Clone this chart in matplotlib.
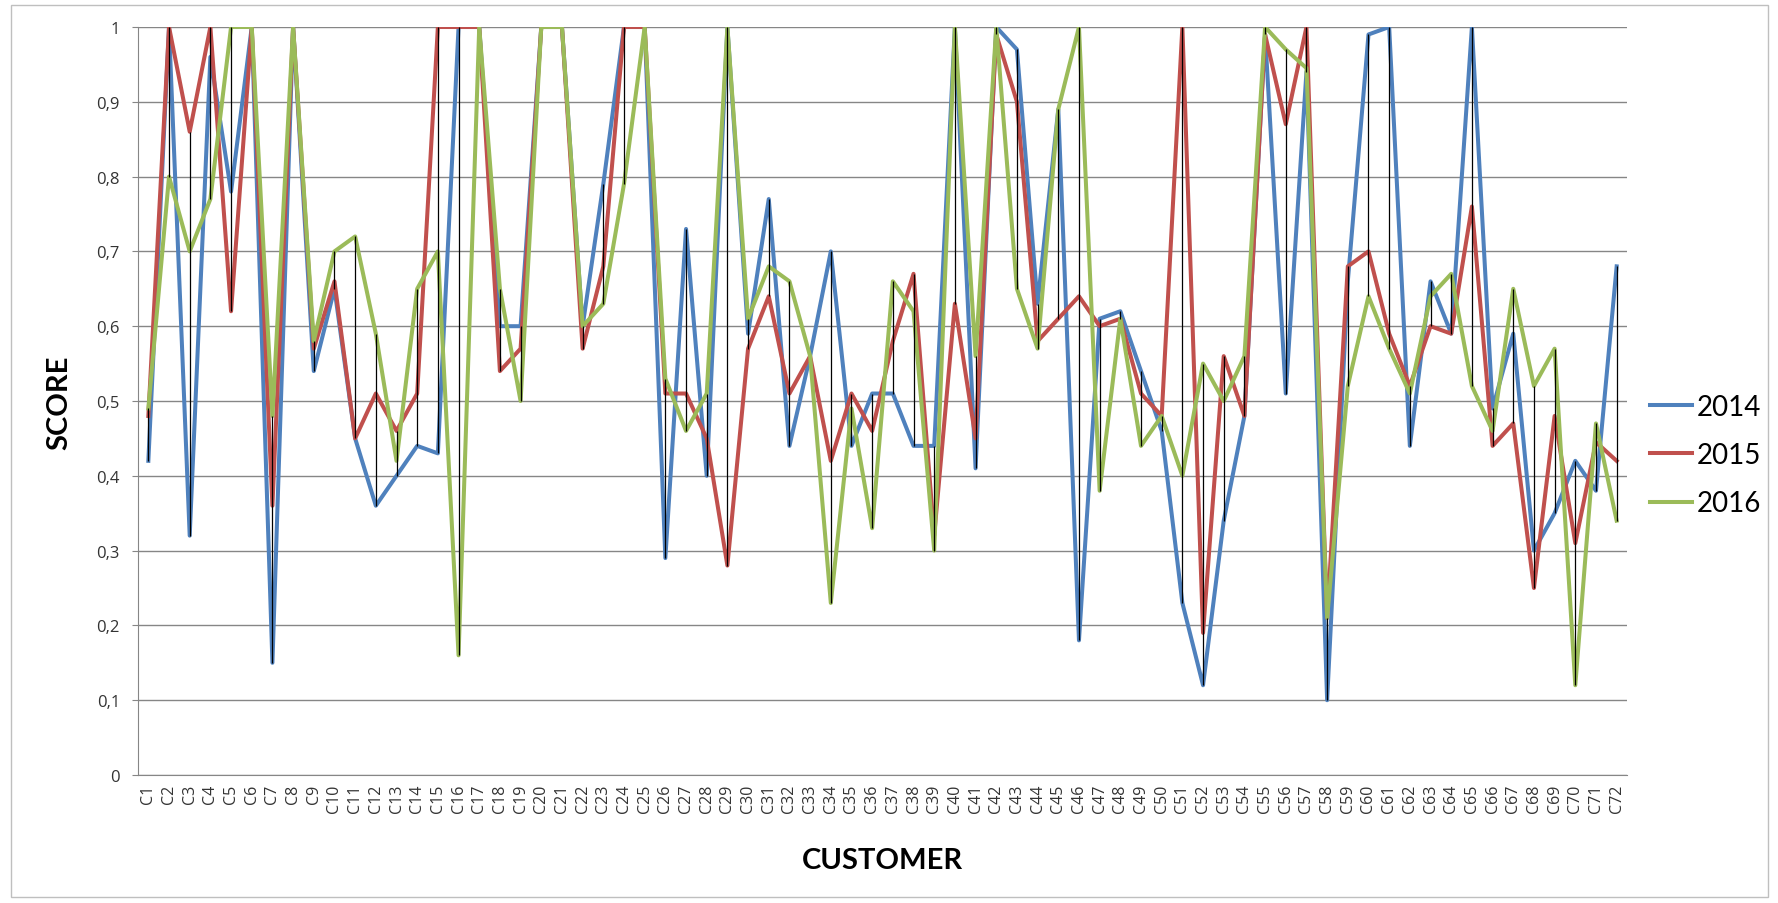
import matplotlib.pyplot as plt
from matplotlib.patches import Rectangle
from matplotlib.ticker import FuncFormatter

customers = ["C" + str(i) for i in range(1, 73)]

score_2014 = [0.42, 1.00, 0.32, 0.96, 0.78, 1.00, 0.15, 1.00, 0.54, 0.65,
              0.45, 0.36, 0.40, 0.44, 0.43, 1.00, 1.00, 0.60, 0.60, 1.00,
              1.00, 0.60, 0.79, 1.00, 1.00, 0.29, 0.73, 0.40, 1.00, 0.59,
              0.77, 0.44, 0.56, 0.70, 0.44, 0.51, 0.51, 0.44, 0.44, 1.00,
              0.41, 1.00, 0.97, 0.63, 0.89, 0.18, 0.61, 0.62, 0.54, 0.46,
              0.23, 0.12, 0.34, 0.48, 0.99, 0.51, 0.94, 0.10, 0.66, 0.99,
              1.00, 0.44, 0.66, 0.59, 1.00, 0.49, 0.59, 0.30, 0.35, 0.42,
              0.38, 0.68]
score_2015 = [0.48, 1.00, 0.86, 1.00, 0.62, 1.00, 0.36, 1.00, 0.57, 0.66,
              0.45, 0.51, 0.46, 0.51, 1.00, 1.00, 1.00, 0.54, 0.57, 1.00,
              1.00, 0.57, 0.68, 1.00, 1.00, 0.51, 0.51, 0.45, 0.28, 0.57,
              0.64, 0.51, 0.56, 0.42, 0.51, 0.46, 0.58, 0.67, 0.32, 0.63,
              0.45, 0.99, 0.90, 0.58, 0.61, 0.64, 0.60, 0.61, 0.51, 0.48,
              1.00, 0.19, 0.56, 0.48, 0.99, 0.87, 1.00, 0.21, 0.68, 0.70,
              0.59, 0.52, 0.60, 0.59, 0.76, 0.44, 0.47, 0.25, 0.48, 0.31,
              0.445, 0.42]
score_2016 = [0.49, 0.80, 0.70, 0.77, 1.00, 1.00, 0.48, 1.00, 0.58, 0.70,
              0.72, 0.59, 0.42, 0.65, 0.70, 0.16, 1.00, 0.65, 0.50, 1.00,
              1.00, 0.60, 0.63, 0.79, 1.00, 0.53, 0.46, 0.51, 1.00, 0.61,
              0.68, 0.66, 0.56, 0.23, 0.49, 0.33, 0.66, 0.62, 0.30, 1.00,
              0.56, 1.00, 0.65, 0.57, 0.89, 1.00, 0.38, 0.61, 0.44, 0.48,
              0.40, 0.55, 0.50, 0.56, 1.00, 0.97, 0.945, 0.21, 0.52, 0.64,
              0.57, 0.51, 0.64, 0.67, 0.52, 0.46, 0.65, 0.52, 0.57, 0.12,
              0.47, 0.34]

years = ["2014", "2015", "2016"]
colors = ["#4F81BD", "#C0504D", "#9BBB59"]

fig = plt.figure(figsize=(17.78, 9.04), dpi=100)
ax = fig.add_axes([138 / 1778, 1 - 776 / 904, (1627 - 138) / 1778, (776 - 28) / 904])

x = list(range(len(customers)))

# high-low lines
lows = [min(a, b, c) for a, b, c in zip(score_2014, score_2015, score_2016)]
highs = [max(a, b, c) for a, b, c in zip(score_2014, score_2015, score_2016)]
ax.vlines(x, lows, highs, color="black", linewidth=0.9, zorder=5)

for series, year, col in zip([score_2014, score_2015, score_2016], years, colors):
    ax.plot(x, series, color=col, linewidth=2.9, label=year, zorder=3)

ax.set_xlim(-0.5, len(customers) - 0.5)
ax.set_ylim(0, 1)
ax.set_yticks([i / 10 for i in range(11)])
ax.yaxis.set_major_formatter(FuncFormatter(lambda v, p: ("%g" % round(v, 1)).replace(".", ",")))
ax.set_xticks(x)
ax.set_xticklabels(customers, rotation=90, fontsize=11.5, color="#333333", family="Open Sans")
ax.tick_params(axis="x", length=0, pad=6)
ax.tick_params(axis="y", length=4, pad=9, color="#868686", labelsize=12, labelcolor="#333333")
for lab in ax.get_yticklabels():
    lab.set_family("Open Sans")

ax.grid(axis="y", color="#868686", linewidth=1)
ax.set_axisbelow(True)
for side in ["top", "right"]:
    ax.spines[side].set_visible(False)
ax.spines["left"].set_color("#868686")
ax.spines["bottom"].set_color("#868686")

fig.text(59 / 1778, 1 - 403 / 904, "SCORE", rotation=90, ha="center", va="center",
         fontsize=21, fontweight="bold", family="Lato")
fig.text(882 / 1778, 1 - 861 / 904, "CUSTOMER", ha="center", va="center",
         fontsize=21, fontweight="bold", family="Lato")

fig.legend(loc="center left", bbox_to_anchor=(1650 / 1778, 1 - 456 / 904), frameon=False,
           prop={"family": "Lato", "size": 20}, handlelength=1.5, handletextpad=0.2,
           labelspacing=0.8, borderpad=0, borderaxespad=0)

fig.patches.append(Rectangle((11 / 1778, 6 / 904), (1768 - 11) / 1778, (898 - 6) / 904,
                             transform=fig.transFigure, fill=False, edgecolor="#bfbfbf", linewidth=1))

fig.savefig("out.png", dpi=100)
